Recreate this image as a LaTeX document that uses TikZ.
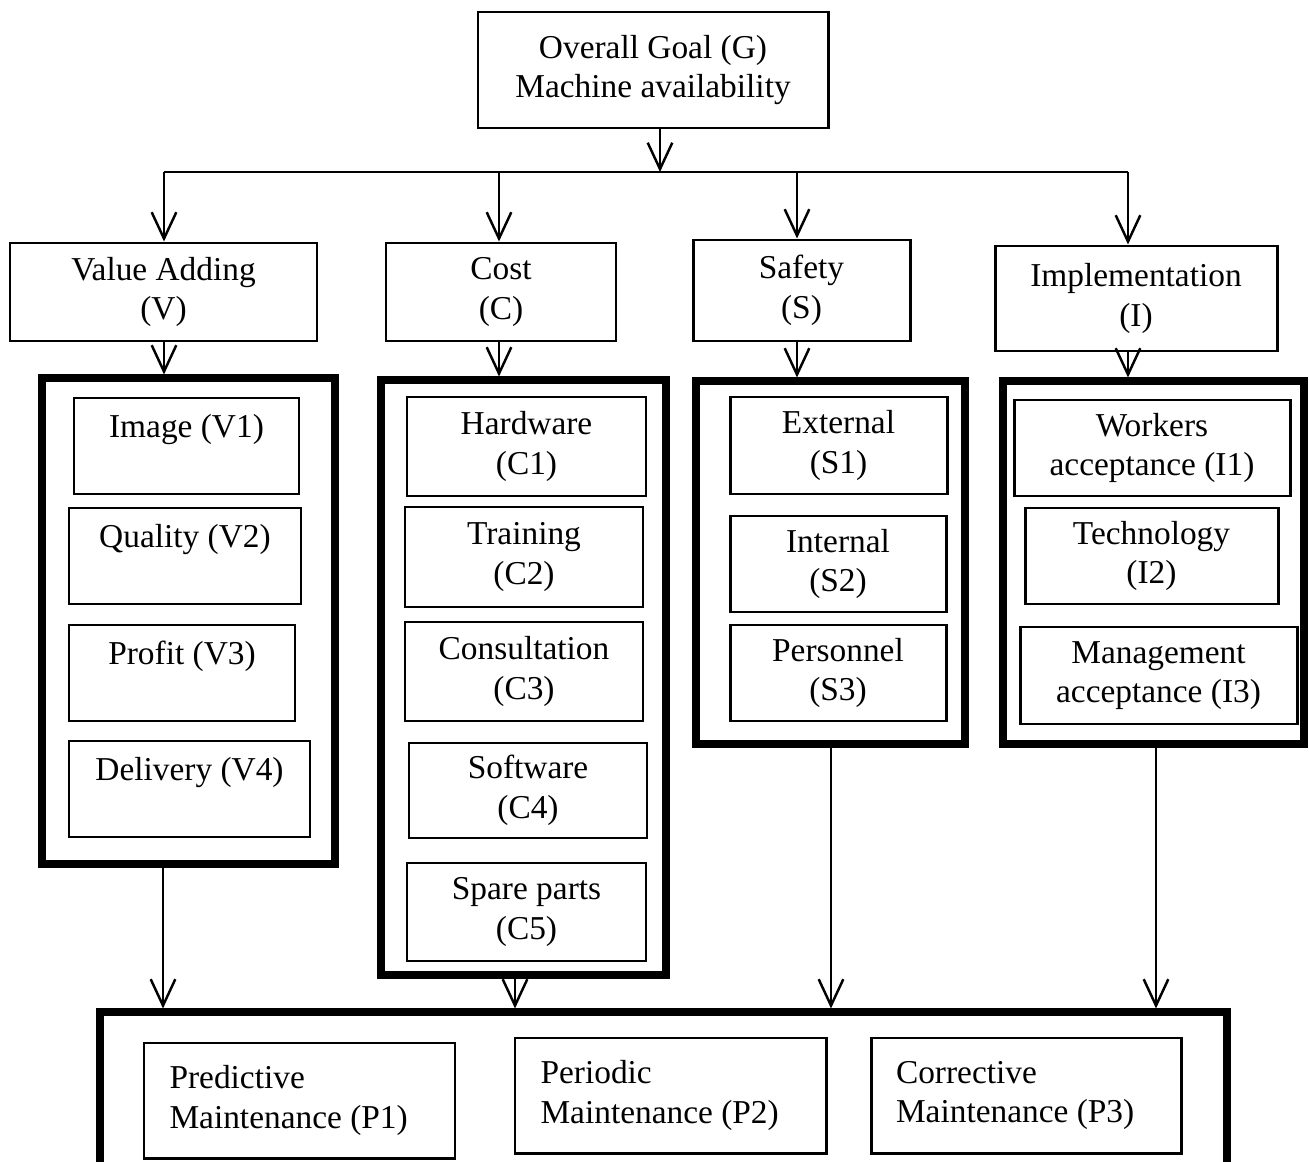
\documentclass[tikz,border=0pt]{standalone}
\usepackage{fontspec}
\setmainfont{Liberation Serif}
\usetikzlibrary{arrows.meta}
\tikzset{
  sz/.style 2 args={minimum width=#1*0.02cm, minimum height=#2*0.02cm},
  box/.style={draw, line width=1.7pt, inner sep=0pt, align=center},
  pbox/.style={box, text width=5.2cm, align=flush left},
  group/.style={draw, line width=4pt, inner sep=0pt},
  arr/.style={line width=1.4pt, -{Straight Barb[length=15pt,width=14pt]}}
}
\begin{document}
\begin{tikzpicture}[x=0.02cm,y=-0.02cm,font=\fontsize{19}{22.5}\selectfont]
\useasboundingbox (0,0) rectangle (1309,1162);

%Goal
\node[box,sz={350}{116}] (goal) at (653,70) {Overall Goal (G)\\Machine availability};

%Criteria
\node[box,sz={307}{98}] (vcat) at (163.5,292) {Value Adding\\(V)};
\node[box,sz={230}{98}] (ccat) at (501,292) {Cost\\(C)};
\node[box,sz={217}{101}] (scat) at (801.5,290.5) {Safety\\(S)};
\node[box,sz={282}{105}] (icat) at (1136,298.5) {Implementation\\(I)};

%Groups
\node[group,sz={293}{486}] (vgrp) at (188.5,621) {};
\node[group,sz={285}{595}] (cgrp) at (523.5,677.5) {};
\node[group,sz={269}{363}] (sgrp) at (830.5,562.5) {};
\node[group,sz={301}{363}] (igrp) at (1153.5,562.5) {};

%Sub-criteria
\node[box,sz={225}{96}] (v1) at (186.5,446) {Image (V1)\\~};
\node[box,sz={232}{96}] (v2) at (185,556) {Quality (V2)\\~};
\node[box,sz={226}{96}] (v3) at (182,673) {Profit (V3)\\~};
\node[box,sz={241}{96}] (v4) at (189.5,789) {Delivery (V4)\\~};

\node[box,sz={239}{99}] (c1) at (526.5,446.5) {Hardware\\(C1)};
\node[box,sz={238}{100}] (c2) at (524,557) {Training\\(C2)};
\node[box,sz={238}{99}] (c3) at (524,671.5) {Consultation\\(C3)};
\node[box,sz={238}{95}] (c4) at (528,790.5) {Software\\(C4)};
\node[box,sz={239}{98}] (c5) at (526.5,912) {Spare parts\\(C5)};

\node[box,sz={217}{97}] (s1) at (838.5,445.5) {External\\(S1)};
\node[box,sz={216}{96}] (s2) at (838,564) {Internal\\(S2)};
\node[box,sz={216}{96}] (s3) at (838,673) {Personnel\\(S3)};

\node[box,sz={276}{96}] (i1) at (1152,448) {Workers\\acceptance (I1)};
\node[box,sz={253}{96}] (i2) at (1151.5,556) {Technology\\(I2)};
\node[box,sz={277}{97}] (i3) at (1158.5,675.5) {Management\\acceptance (I3)};

%Maintenance
\node[group,sz={1127}{173}] (pgrp) at (663.5,1098.5) {};
\node[pbox,sz={311}{115}] (p1) at (299.5,1100.5) {Predictive\\Maintenance (P1)};
\node[pbox,sz={311}{115}] (p2) at (670.5,1095.5) {Periodic\\Maintenance (P2)};
\node[pbox,sz={310}{115}] (p3) at (1026,1095.5) {Corrective\\Maintenance (P3)};

%Bus
\coordinate (bus) at (660,172);
\coordinate (tv) at (164,172);
\coordinate (tc) at (499,172);
\coordinate (ts) at (797,172);
\coordinate (ti) at (1128,172);
\draw[arr] (goal.south -| bus) -- (bus);
\draw[line width=1.4pt] (tv) -- (ti);
\foreach \n in {v,c,s,i}{
  \draw[arr] (t\n) -- (t\n |- \n cat.north);
  \draw[arr] (\n cat.south -| t\n) -- (t\n |- \n grp.north);
}

%To maintenance
\coordinate (bv) at (163,1012);
\coordinate (bc) at (515,1012);
\coordinate (bs) at (831,1012);
\coordinate (bi) at (1156,1012);
\foreach \n in {v,c,s,i}
  \draw[arr] (\n grp.south -| b\n) -- (b\n |- pgrp.north);
\end{tikzpicture}
\end{document}
